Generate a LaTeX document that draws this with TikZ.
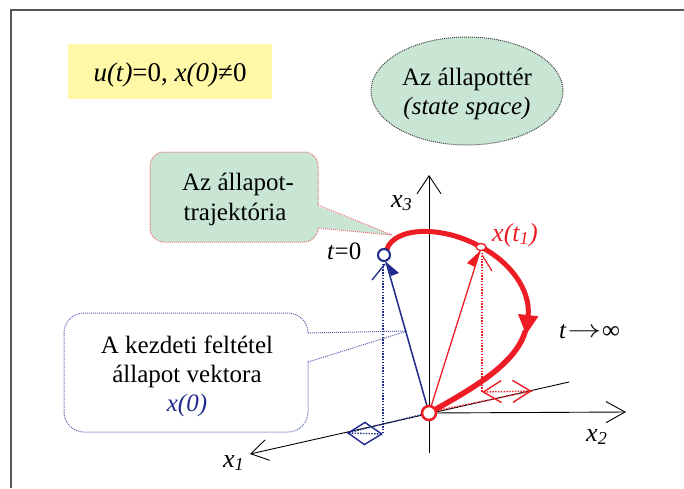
\documentclass[tikz,border=0pt]{standalone}
\usepackage{fontspec}
\usepackage{graphicx}
\setmainfont{Liberation Serif}
\usetikzlibrary{arrows.meta,shapes.geometric}
\definecolor{frameg}{HTML}{555555}
\definecolor{ylw}{HTML}{FFF8A6}
\definecolor{grn}{HTML}{C9E6D5}
\definecolor{rd}{HTML}{EE1C25}
\definecolor{rdl}{HTML}{E8707A}
\definecolor{bl}{HTML}{1F2A8C}
\definecolor{bld}{HTML}{5A64B4}
\definecolor{darkg}{HTML}{404040}
\newcommand{\fsz}[1]{\fontsize{#1}{#1}\selectfont}
\begin{document}
\begin{tikzpicture}[x=1pt,y=-1pt,
  txt/.style={inner sep=0pt, anchor=base},
  txtw/.style={inner sep=0pt, anchor=base west},
  axisline/.style={line width=0.9pt, black},
  finedot/.style={line width=1pt, dash pattern=on 1pt off 1pt},
  projdot/.style={line width=1.4pt, dash pattern=on 1.4pt off 1.4pt},
  traj/.style={rd, line width=5pt, line cap=round}]
\useasboundingbox (0,0) rectangle (684,488);
\fill[white] (0,0) rectangle (684,488);
% frame
\draw[frameg, line width=1.6pt] (11,488) -- (11,10) -- (684,10);
% condition box
\node[fill=ylw, minimum width=204pt, minimum height=55pt, inner sep=0pt] (cond) at (170,71.5) {};
\node[txt, font=\fsz{27}] (condtxt) at (170,81) {\textit{u(t)}=0, \textit{x(0)}≠0};
% state space ellipse
\node[ellipse, draw=darkg, finedot, fill=grn, minimum width=192pt, minimum height=108pt, inner sep=0pt] (space) at (467,91) {};
\node[txt, font=\fsz{25}] (spacea) at (467,85) {Az állapottér};
\node[txt, font=\fsz{25}\itshape] (spaceb) at (467,114) {(state space)};
% callout 1
\fill[grn, draw=rdl, finedot, rounded corners=14pt] (150,152) rectangle (318,242);
\fill[grn] (316.5,205.6) -- (392,235) -- (316.5,227.4) -- cycle;
\draw[rdl, finedot] (318,205) -- (392,235) -- (318,228);
\node[txt, font=\fsz{25}] (traja) at (238,190) {Az állapot-};
\node[txt, font=\fsz{25}] (trajb) at (235,220) {trajektória};
% callout 2
\fill[white, draw=bld, finedot, rounded corners=20pt] (64,313) rectangle (308,432);
\fill[white] (306.5,334) -- (407,331) -- (306.5,361) -- cycle;
\draw[bld, finedot] (308,333) -- (407,331) -- (308,362);
\node[txt, font=\fsz{25}] (inia) at (187,353) {A kezdeti feltétel};
\node[txt, font=\fsz{25}] (inib) at (187,382) {állapot vektora};
\node[txt, font=\fsz{25}\itshape, text=bl] (inic) at (187,411) {x(0)};
% key coordinates
\coordinate (cO) at (429,413);
\coordinate (c0) at (384,255);
\coordinate (c1) at (481,247);
\coordinate (btip) at (386,262);
\coordinate (rtip) at (480,251);
% axes
\coordinate (x3b) at (429,453);
\coordinate (x3t) at (429,175);
\coordinate (x2t) at (626,412);
\coordinate (x1e) at (569,382);
\coordinate (x1t) at (250,454);
\draw[axisline, -{Straight Barb[length=18pt,width=24pt]}] (x3b) -- (x3t);
\draw[axisline, -{Straight Barb[length=19pt,width=21pt]}] (cO) -- (x2t);
\draw[axisline, -{Straight Barb[length=17pt,width=21pt]}] (x1e) -- (x1t);
\node[txtw, font=\fsz{26}\itshape] (lx3) at (391,207) {x\textsubscript{3}};
\node[txtw, font=\fsz{26}\itshape] (lx2) at (586,441) {x\textsubscript{2}};
\node[txtw, font=\fsz{26}\itshape] (lx1) at (223,467) {x\textsubscript{1}};
% projections of x(0)
\coordinate (b0) at (383,434);
\coordinate (b1) at (347,433);
\draw[bl, projdot] (383,261) -- (b0);
\draw[bl, projdot] (424,414) -- (b1);
\draw[bl, projdot, {Straight Barb[length=17pt,width=23pt]}-{Straight Barb[length=17pt,width=22pt]}] (b1) -- (b0);
% projections of x(t1)
\coordinate (r0) at (482,392);
\coordinate (r1) at (532,391);
\draw[rd, projdot] (482,253) -- (r0);
\draw[rd, projdot] (435,411) -- (r1);
\draw[rd, projdot, {Straight Barb[length=18pt,width=22pt]}-{Straight Barb[length=18pt,width=22pt]}] (r0) -- (r1);
% state vectors
\draw[bl, line width=1.5pt] (cO) -- (btip);
\fill[bl] (btip) -- (399,273) -- (391,276) -- cycle;
\draw[bl, line width=1.3pt] (385,264) -- (372,280);
\draw[rd, line width=1.3pt] (cO) -- (rtip);
\fill[rd] (rtip) -- (467,263) -- (475,267) -- cycle;
\draw[rd, line width=1.2pt] (482,255) -- (492,271);
% trajectory
\coordinate (tr0) at (387,249);
\coordinate (trh) at (526,335);
\draw[traj] (tr0) .. controls (394,228) and (440,224) .. (c1);
\draw[traj, line cap=butt, -{Triangle[length=20pt,width=19pt]}] (c1) .. controls (510,262) and (531,290) .. (trh);
\draw[traj, line width=5.5pt] (525,332) .. controls (515,365) and (470,390) .. (cO);
% points
\node[circle, draw=rd, line width=2.5pt, fill=white, minimum size=14pt, inner sep=0pt] (orig) at (cO) {};
\node[circle, draw=bl, line width=2pt, fill=white, minimum size=12pt, inner sep=0pt] (p0) at (c0) {};
\node[ellipse, draw=rd, line width=1.3pt, fill=white, minimum width=10pt, minimum height=7pt, inner sep=0pt] (p1) at (c1) {};
% labels
\node[txtw, font=\fsz{25}] (lt0) at (327,259) {\textit{t}=0};
\node[txtw, font=\fsz{26}\itshape, text=rd] (lxt1) at (492,241) {x(t\textsubscript{1})};
\node[txtw, font=\fsz{25}] (ltinf) at (559,338) {\textit{t}\kern1pt\raisebox{0.5pt}{\scalebox{1.35}[1]{$\rightarrow$}}\kern1pt∞};
\end{tikzpicture}
\end{document}
